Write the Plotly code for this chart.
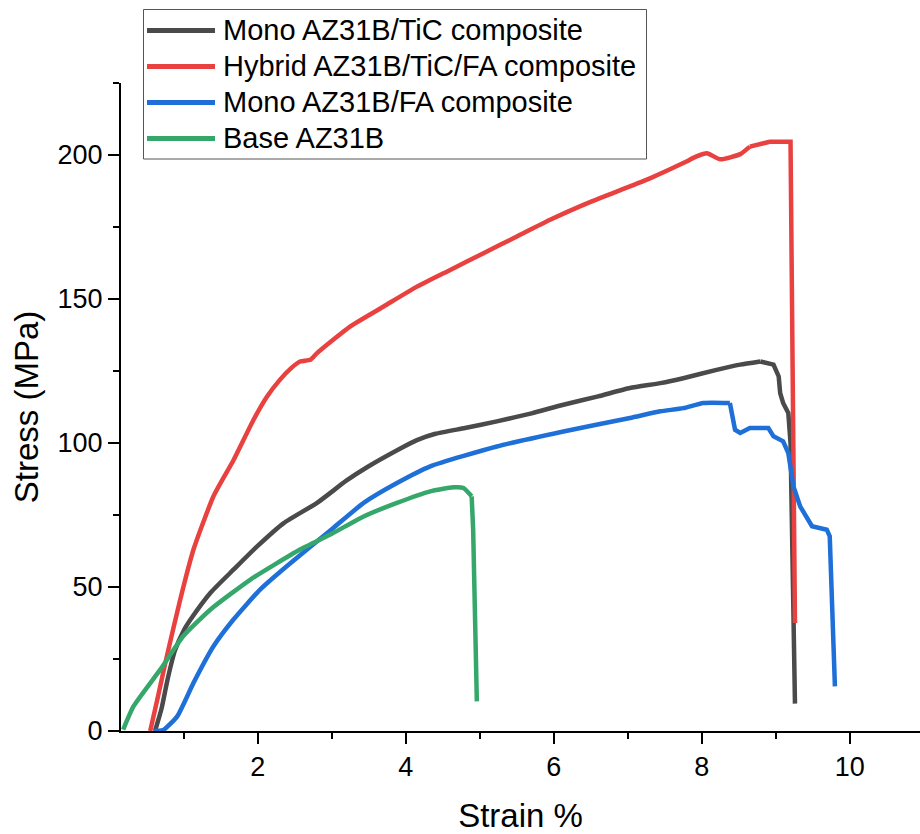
import plotly.graph_objects as go

# Tensile test curves: strain (%) vs stress (MPa)
tic_strain = [0.61, 0.70, 0.78, 0.88, 1.00, 1.09, 1.36, 1.67, 1.99, 2.35, 2.80, 3.20, 3.47,
              3.92, 4.15, 4.40, 4.80, 5.23, 5.70, 6.13, 6.60, 7.03, 7.44, 7.75, 8.20, 8.52,
              8.79, 8.97, 9.04, 9.06, 9.10, 9.17, 9.20, 9.26]
tic_stress = [0, 8, 18, 28, 35, 38.7, 48, 56, 64.1, 72.2, 79.2, 87, 91.5,
              98, 101, 103.2, 105.2, 107.5, 110.3, 113.3, 116.2, 119.1, 120.8, 122.5, 125.4, 127.2,
              128.3, 127.2, 123.1, 117.3, 113.9, 110.4, 100, 9.5]

hyb_strain = [0.545, 0.65, 0.77, 0.95, 1.13, 1.40, 1.67, 1.94, 2.12, 2.30, 2.45, 2.57, 2.71,
              2.80, 3.25, 3.70, 4.15, 4.60, 5.05, 5.50, 5.95, 6.40, 6.85, 7.30, 7.75, 7.93,
              8.07, 8.25, 8.52, 8.65, 8.92, 9.20, 9.26]
hyb_stress = [0, 12, 26, 45.6, 63, 81.5, 94, 108, 116, 122, 126, 128.3, 128.9,
              131.2, 140.5, 147.4, 154.3, 160.1, 165.9, 171.7, 177.5, 182.7, 187.3, 191.9, 197.2, 199.5,
              200.6, 198.5, 200.3, 202.9, 204.6, 204.6, 37.5]

fa_strain = [0.59, 0.72, 0.91, 1.13, 1.40, 1.67, 2.03, 2.39, 3.02, 3.43, 3.88, 4.33, 5.23,
             6.13, 7.03, 7.44, 7.75, 8.02, 8.38, 8.45, 8.52, 8.65, 8.90, 8.97, 9.10, 9.17,
             9.24, 9.33, 9.49, 9.69, 9.73, 9.80]
fa_stress = [0, 0.3, 5.1, 16.7, 29.4, 38.7, 49.1, 57.2, 70.5, 79.2, 86.1, 91.9, 98.8,
             104, 108.7, 111, 112.1, 113.9, 113.9, 104.6, 103.5, 105.2, 105.2, 102.3, 100.6, 96.5,
             84.9, 78, 71.1, 69.9, 67.6, 15.5]

base_strain = [0.18, 0.32, 0.68, 0.99, 1.36, 1.90, 2.57, 3.00, 3.43, 3.88, 4.33, 4.64, 4.78,
               4.89, 4.91, 4.96]
base_stress = [0.5, 8.6, 21.3, 32.9, 42.2, 52.6, 63, 68.5, 74.5, 79.2, 83.2, 84.6, 84.4,
               81.5, 69.9, 10.3]

# strain at which each curve leaves smooth hardening (drawn straight afterwards)
tic_onset, hyb_onset, fa_onset, base_onset = 8.79, 8.65, 8.38, 4.89

series_names = ["Mono AZ31B/TiC composite", "Hybrid AZ31B/TiC/FA composite",
                "Mono AZ31B/FA composite", "Base AZ31B"]
series_colors = ["#4a4a4a", "#e8413f", "#1f6fd8", "#36a76a"]
series_data = [(tic_strain, tic_stress, tic_onset), (hyb_strain, hyb_stress, hyb_onset),
               (fa_strain, fa_stress, fa_onset), (base_strain, base_stress, base_onset)]

FONT = "Arial, Liberation Sans, sans-serif"

# figure / plot-area geometry in pixels
W, H = 920, 834
ML, MR, MT, MB = 121, 0, 83, 103
PW, PH = W - ML - MR, H - MT - MB


def px_to_paper(px, py):
    return (px - ML) / PW, (H - MB - py) / PH


fig = go.Figure()
for name, (xs, ys, onset), color in zip(series_names, series_data, series_colors):
    k = xs.index(onset)
    fig.add_trace(go.Scatter(x=xs[:k + 1], y=ys[:k + 1], mode="lines", name=name,
                             legendgroup=name, showlegend=False,
                             line=dict(color=color, width=4.5, shape="spline", smoothing=0.5)))
    fig.add_trace(go.Scatter(x=xs[k:], y=ys[k:], mode="lines", name=name,
                             legendgroup=name, showlegend=False,
                             line=dict(color=color, width=4.5, shape="linear")))

axis_common = dict(
    showline=True, linewidth=2, linecolor="black",
    ticks="outside", ticklen=11, tickwidth=2, tickcolor="black",
    showgrid=False, zeroline=False,
    tickfont=dict(family=FONT, size=27, color="black"),
)

fig.update_xaxes(
    range=[0.15, 10.95], tick0=0, dtick=2,
    minor=dict(ticks="outside", ticklen=6, tickwidth=2, tickcolor="black", dtick=1, tick0=0),
    title=dict(text="Strain %", font=dict(family=FONT, size=33, color="black"), standoff=24),
    **axis_common,
)
fig.update_yaxes(
    range=[0, 225], tick0=0, dtick=50,
    minor=dict(ticks="outside", ticklen=6, tickwidth=2, tickcolor="black", dtick=25, tick0=0),
    title=dict(text="Stress (MPa)", font=dict(family=FONT, size=33, color="black"), standoff=9),
    **axis_common,
)

# legend box with line samples and labels
shapes = []
annotations = []
bx0, by0 = px_to_paper(143.5, 159)
bx1, by1 = px_to_paper(646.5, 9.5)
shapes.append(dict(type="rect", xref="paper", yref="paper", x0=bx0, y0=by0, x1=bx1, y1=by1,
                   line=dict(color="#555555", width=1), fillcolor="white", layer="above"))
row_y = [30.5, 66.5, 102.5, 138.5]
for name, color, ry in zip(series_names, series_colors, row_y):
    lx0, ly = px_to_paper(147, ry)
    lx1, _ = px_to_paper(215, ry)
    shapes.append(dict(type="line", xref="paper", yref="paper", x0=lx0, x1=lx1, y0=ly, y1=ly,
                       line=dict(color=color, width=5), layer="above"))
    tx, ty = px_to_paper(221, ry - 0.5)
    annotations.append(dict(text=name, xref="paper", yref="paper", x=tx, y=ty,
                            xanchor="left", yanchor="middle", showarrow=False,
                            font=dict(family=FONT, size=29, color="black")))

fig.update_layout(
    width=W, height=H,
    margin=dict(l=ML, r=MR, t=MT, b=MB, autoexpand=False),
    paper_bgcolor="white", plot_bgcolor="white",
    font=dict(family=FONT, color="black"),
    showlegend=False,
    shapes=shapes, annotations=annotations,
)

fig.write_html("out.html")
